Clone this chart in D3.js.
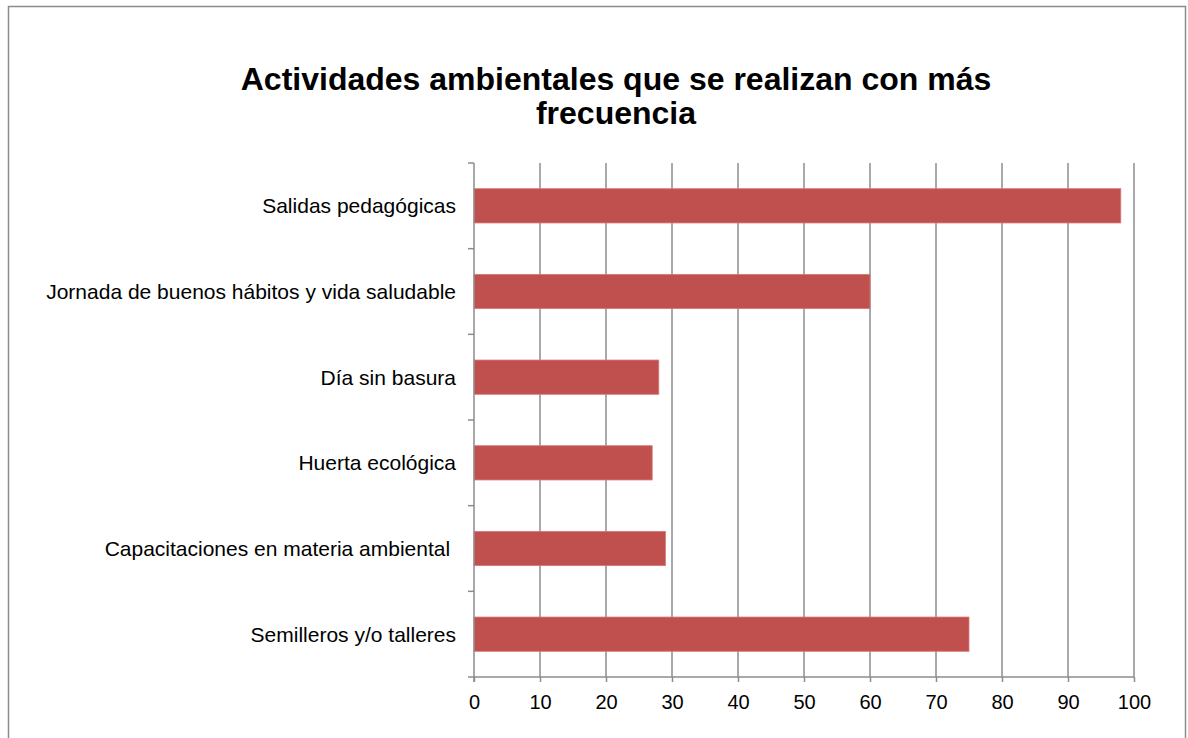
<!DOCTYPE html>
<html>
<head>
<meta charset="utf-8">
<script src="https://cdn.jsdelivr.net/npm/d3@7"></script>
<style>
  body { margin: 0; background: #fff; }
  svg text { font-family: "Liberation Sans", Arial, sans-serif; fill: #000; }
</style>
</head>
<body>
<div id="chart"></div>
<script>
// data
var categories = [
  "Salidas pedagógicas",
  "Jornada de buenos hábitos y vida saludable",
  "Día sin basura",
  "Huerta ecológica",
  "Capacitaciones en materia ambiental ",
  "Semilleros y/o talleres"
];
var values = [98, 60, 28, 27, 29, 75];
var xTicks = [0, 10, 20, 30, 40, 50, 60, 70, 80, 90, 100];
var titleLines = ["Actividades ambientales que se realizan con más", "frecuencia"];

var W = 1188, H = 738;
var margin = { top: 163, right: 54, bottom: 61, left: 474 };
var width = W - margin.left - margin.right,
  height = H - margin.top - margin.bottom;

var svg = d3.select("#chart").append("svg")
  .attr("width", W)
  .attr("height", H);

// outer frame
svg.append("rect")
  .attr("x", 8.5).attr("y", 6.5)
  .attr("width", 1177).attr("height", 740)
  .attr("fill", "none")
  .attr("stroke", "#8c8c8c")
  .attr("stroke-width", 1.5);

// title
svg.append("text")
  .attr("text-anchor", "middle")
  .style("font-size", "32px")
  .style("font-weight", "bold")
  .selectAll("tspan")
  .data(titleLines)
  .join("tspan")
  .attr("x", 616)
  .attr("y", (d, i) => 90 + i * 34)
  .text(d => d);

var g = svg.append("g")
  .attr("transform", "translate(" + margin.left + "," + margin.top + ")");

var x = d3.scaleLinear().domain([0, 100]).range([0, width]);
var y = d3.scaleBand().domain(categories).range([0, height]).paddingInner(0.6).paddingOuter(0.3);

// vertical gridlines
g.append("g").selectAll("line")
  .data(xTicks.slice(1))
  .join("line")
  .attr("x1", d => x(d)).attr("x2", d => x(d))
  .attr("y1", 0).attr("y2", height)
  .attr("stroke", "#8c8c8c")
  .attr("stroke-width", 1.5);

// bars
g.append("g").selectAll("rect")
  .data(values)
  .join("rect")
  .attr("x", 0)
  .attr("y", (d, i) => y(categories[i]))
  .attr("width", d => x(d))
  .attr("height", y.bandwidth())
  .attr("fill", "#c0504d")
  .attr("stroke", "#d47a77")
  .attr("stroke-width", 0.8);

// x axis
var xAxis = g.append("g")
  .attr("transform", "translate(0," + height + ")")
  .call(d3.axisBottom(x).tickValues(xTicks).tickSize(5).tickSizeOuter(0).tickPadding(13));
xAxis.select(".domain").attr("stroke", "#8c8c8c").attr("stroke-width", 1.5)
  .attr("d", "M-6,0H" + width);
xAxis.selectAll(".tick line").attr("stroke", "#8c8c8c").attr("stroke-width", 1.5);
xAxis.selectAll(".tick text")
  .style("font-size", "20px")
  .style("font-family", "Liberation Sans, Arial, sans-serif")
  .attr("fill", "#000");

// y axis: ticks at band boundaries
var step = height / categories.length;
var yb = g.append("g");
yb.append("line")
  .attr("x1", 0).attr("x2", 0)
  .attr("y1", 0).attr("y2", height + 5)
  .attr("stroke", "#8c8c8c").attr("stroke-width", 1.5);
yb.selectAll("line.tk")
  .data(d3.range(categories.length))
  .join("line")
  .attr("class", "tk")
  .attr("x1", -6).attr("x2", 0)
  .attr("y1", d => d * step).attr("y2", d => d * step)
  .attr("stroke", "#8c8c8c").attr("stroke-width", 1.5);

g.append("g").selectAll("text")
  .data(categories)
  .join("text")
  .attr("x", -18)
  .attr("y", d => y(d) + y.bandwidth() / 2)
  .attr("dy", "0.35em")
  .attr("text-anchor", "end")
  .style("font-size", "21px")
  .style("white-space", "pre")
  .text(d => d);
</script>
</body>
</html>
